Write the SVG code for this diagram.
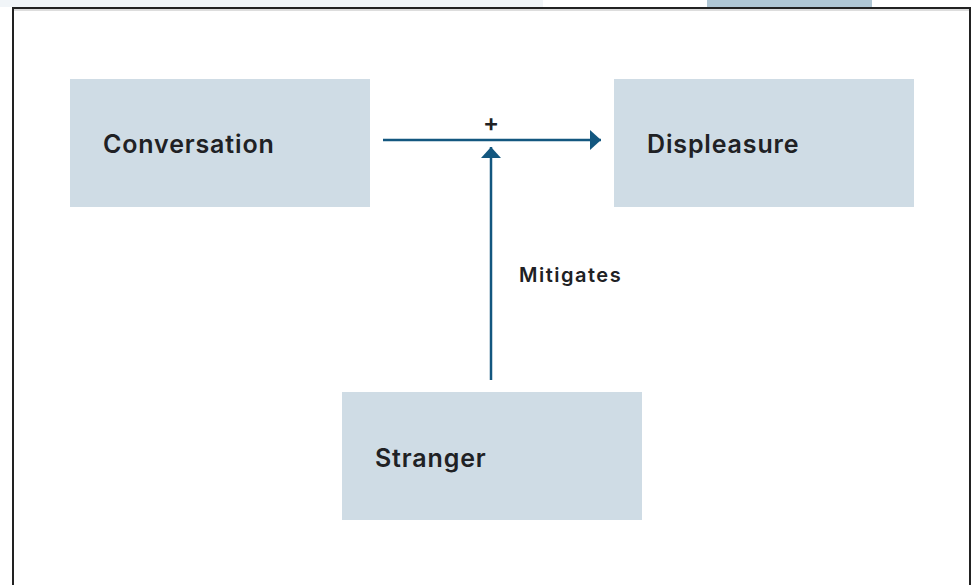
<svg xmlns="http://www.w3.org/2000/svg" width="972" height="585" viewBox="0 0 972 585">
<defs>
<style>
.node rect{fill:#cfdce5}
.node text{font-family:Inter,"Noto Sans",sans-serif;font-weight:600;font-size:25px;letter-spacing:0.85px;fill:#202124}
.lbl{font-family:Inter,"Noto Sans",sans-serif;font-weight:600;fill:#202124}
.edge{stroke:#13577f;stroke-width:2.5;fill:none}
</style>
<marker id="ah" markerWidth="12" markerHeight="20" refX="11" refY="10" orient="auto" markerUnits="userSpaceOnUse">
<path d="M0,0 L11,10 L0,20 Z" fill="#13577f"/>
</marker>
</defs>
<rect x="0" y="0" width="972" height="585" fill="#ffffff"/>
<rect x="0" y="0" width="543" height="7" fill="#f1f5f8"/>
<rect x="707" y="0" width="165" height="7" fill="#afc6d4"/>
<rect x="13" y="8" width="957" height="590" fill="#ffffff" stroke="#222222" stroke-width="2"/>
<line x1="14" y1="10" x2="969" y2="10" stroke="#bbbbbb" stroke-width="1"/>
<g id="conversation" class="node">
<rect x="70" y="79" width="300" height="128"/>
<text x="103" y="153">Conversation</text>
</g>
<g id="displeasure" class="node">
<rect x="614" y="79" width="300" height="128"/>
<text x="647" y="153">Displeasure</text>
</g>
<g id="stranger" class="node">
<rect x="342" y="392" width="300" height="128"/>
<text x="375" y="467">Stranger</text>
</g>
<g id="connectors">
<line class="edge" x1="383" y1="140" x2="601" y2="140" marker-end="url(#ah)"/>
<line class="edge" x1="491" y1="380" x2="491" y2="147" marker-end="url(#ah)"/>
<text class="lbl" x="491" y="131" font-size="24" font-weight="700" text-anchor="middle">+</text>
<text class="lbl" x="519" y="282" font-size="20" letter-spacing="1.5">Mitigates</text>
</g>
</svg>
